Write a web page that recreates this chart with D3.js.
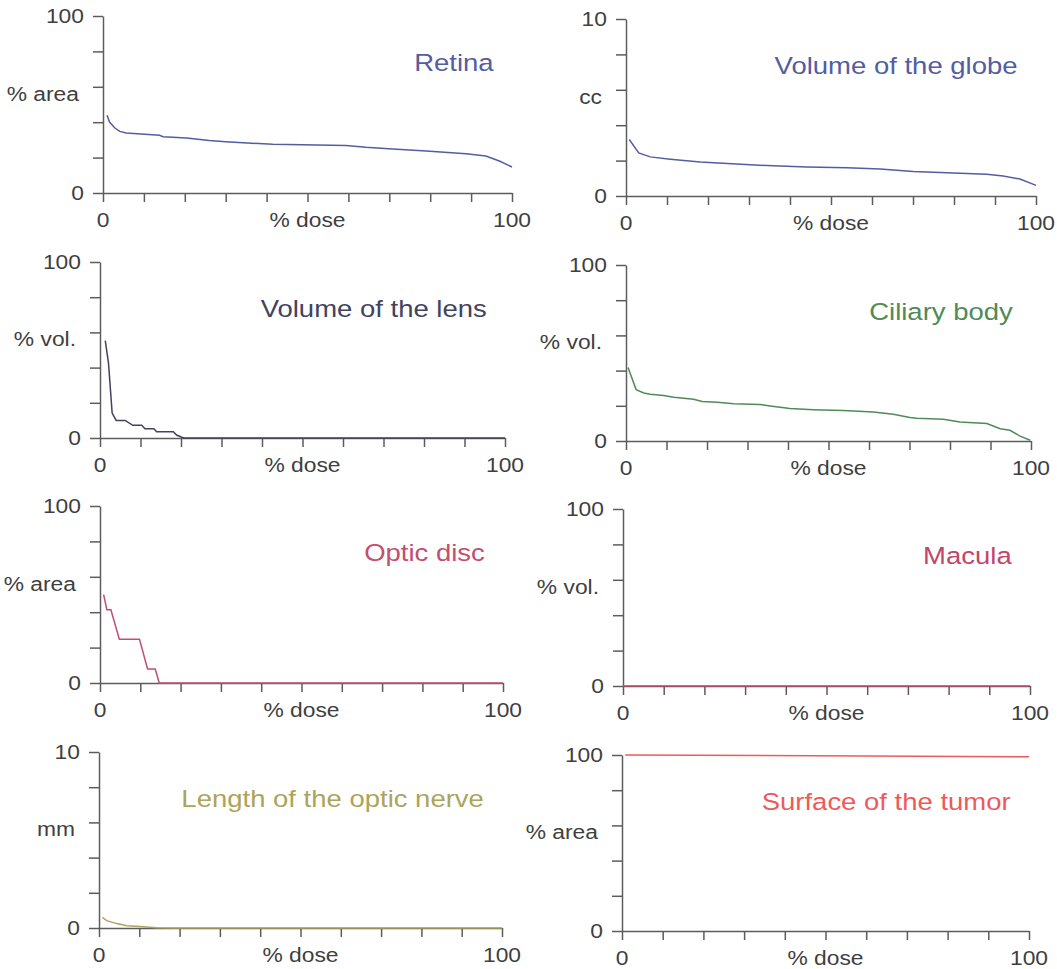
<!DOCTYPE html>
<meta charset="utf-8">
<style>

body {
  margin: 0;
  background-color: white;
}

text {
  font-family: "Liberation Sans", Arial, sans-serif;
}

.axis path,
.axis line {
  fill: none;
  stroke: #5c5c5c;
  stroke-width: 1.5;
}

.curve {
  fill: none;
  stroke-width: 1.5;
}

</style>
<body>

<script src="https://cdn.jsdelivr.net/npm/d3@7"></script>
<script>

var titles = ["Retina", "Volume of the globe", "Volume of the lens", "Ciliary body",
              "Optic disc", "Macula", "Length of the optic nerve", "Surface of the tumor"];
var units = ["% area", "cc", "% vol.", "% vol.", "% area", "% vol.", "mm", "% area"];
var yMax = [100, 10, 100, 100, 100, 100, 10, 100];
var colors = ["#525da3", "#525da3", "#41435f", "#4f8b57",
              "#c24f71", "#c2466a", "#aca45a", "#ee5a5a"];

// [% dose, value]
var retina = [[1, 43.9], [1.6, 40.1], [2.9, 36.7], [4.1, 34.8], [5.7, 33.9], [13.8, 32.6],
  [14.7, 31.8], [20.4, 31.1], [26, 29.6], [30, 29], [41.5, 27.5], [59.4, 26.9], [64.3, 25.8],
  [70.8, 24.9], [79, 23.7], [88.8, 22.2], [93.6, 20.9], [96.9, 18.1], [100, 14.7]];
var globe = [[0.8, 3.19], [3.1, 2.43], [5.9, 2.21], [10.8, 2.08], [18.1, 1.92], [27, 1.81],
  [34.4, 1.72], [44.1, 1.64], [53.9, 1.6], [62, 1.53], [70.1, 1.38], [79.9, 1.3], [88, 1.23],
  [92, 1.13], [96.1, 0.96], [100, 0.6]];
var lens = [[1.3, 55.3], [2.1, 42.5], [3, 14.2], [4, 10], [6.2, 10], [8.1, 7.2], [10.3, 7.2],
  [11.1, 5.3], [13.3, 5.3], [14, 3.6], [18.1, 3.6], [18.9, 1.7], [20.2, 0.4], [20.8, 0], [100, 0]];
var ciliary = [[0.5, 41.7], [2.5, 29.2], [4.4, 27.3], [6, 26.6], [9.3, 25.8], [11.8, 24.9],
  [16.7, 23.7], [18.8, 22.4], [22.5, 22], [26.6, 21.1], [33.1, 20.7], [35.6, 19.9], [40.5, 18.4],
  [46.3, 17.8], [53.7, 17.3], [61.1, 16.5], [66, 15.2], [70.1, 13.3], [71.8, 12.9], [78.4, 12.3],
  [82.5, 10.8], [89.1, 9.9], [92.4, 7], [94.8, 6.1], [97.3, 2.8], [99.8, 0.4]];
var opticDisc = [[0.9, 49.9], [1.7, 41.4], [2.7, 41.4], [4.8, 24.7], [9.8, 24.7], [11.8, 7.9],
  [13.7, 7.9], [14.7, 0], [100, 0]];
var macula = [[0, 0], [100, 0]];
var opticNerve = [[0.8, 0.61], [1.9, 0.42], [4.4, 0.25], [6.9, 0.13], [10.2, 0.08],
  [14.3, 0.02], [18.5, 0], [100, 0]];
var tumor = [[0.8, 100], [100, 99]];

var series = [retina, globe, lens, ciliary, opticDisc, macula, opticNerve, tumor];

// plot boxes (the scan is slightly skewed, so each panel gets its own)
var boxes = [
  {x: 103, y: 16, w: 409, h: 177}, {x: 626, y: 19, w: 410, h: 177},
  {x: 100, y: 262, w: 405, h: 176}, {x: 626, y: 265, w: 405, h: 176},
  {x: 100, y: 506, w: 403, h: 177}, {x: 623, y: 509, w: 407, h: 177},
  {x: 99, y: 752, w: 403, h: 176}, {x: 622, y: 755, w: 407, h: 176}
];

var stretch = 1.17,
    textColor = "#3f3f3f";

var svg = d3.select("body").append("svg")
    .attr("width", 1057)
    .attr("height", 969);

function label(g, x, y, str, size, anchor, color) {
  return g.append("text")
      .attr("transform", "translate(" + x + "," + y + ")scale(" + stretch + ",1)")
      .attr("dy", "0.35em")
      .attr("text-anchor", anchor)
      .style("font-size", size + "px")
      .style("fill", color)
      .text(str);
}

series.forEach(function(data, i) {
  var b = boxes[i];

  var x = d3.scaleLinear().domain([0, 100]).range([0, b.w]);
  var y = d3.scaleLinear().domain([0, yMax[i]]).range([b.h, 0]);

  var g = svg.append("g")
      .attr("transform", "translate(" + b.x + "," + b.y + ")");

  g.append("g")
      .attr("class", "axis")
      .attr("transform", "translate(0," + b.h + ")")
      .call(d3.axisBottom(x).tickValues(d3.range(0, 101, 10)).tickSize(9).tickSizeOuter(0).tickFormat(""));

  g.append("g")
      .attr("class", "axis")
      .call(d3.axisLeft(y).tickValues(d3.range(0, 6).map(function(k) { return k * yMax[i] / 5; }))
        .tickSize(10).tickSizeOuter(0).tickFormat(""));

  // tick labels
  label(g, -19, y(0), "0", 19.5, "end", textColor);
  label(g, -19, y(yMax[i]), String(yMax[i]), 19.5, "end", textColor);
  label(g, -24, y(yMax[i] * 0.6) + 7, units[i], 19.5, "end", textColor);

  label(g, x(0), b.h + 27, "0", 19.5, "middle", textColor);
  label(g, x(50), b.h + 27, "% dose", 19.5, "middle", textColor);
  label(g, x(100), b.h + 27, "100", 19.5, "middle", textColor);

  // structure name
  label(g, b.w * 0.955, 47, titles[i], 23.5, "end", colors[i]);

  var line = d3.line()
      .x(function(d) { return x(d[0]); })
      .y(function(d) { return y(d[1]); });

  g.append("path")
      .datum(data)
      .attr("class", "curve")
      .attr("d", line)
      .style("stroke", colors[i]);
});

</script>
